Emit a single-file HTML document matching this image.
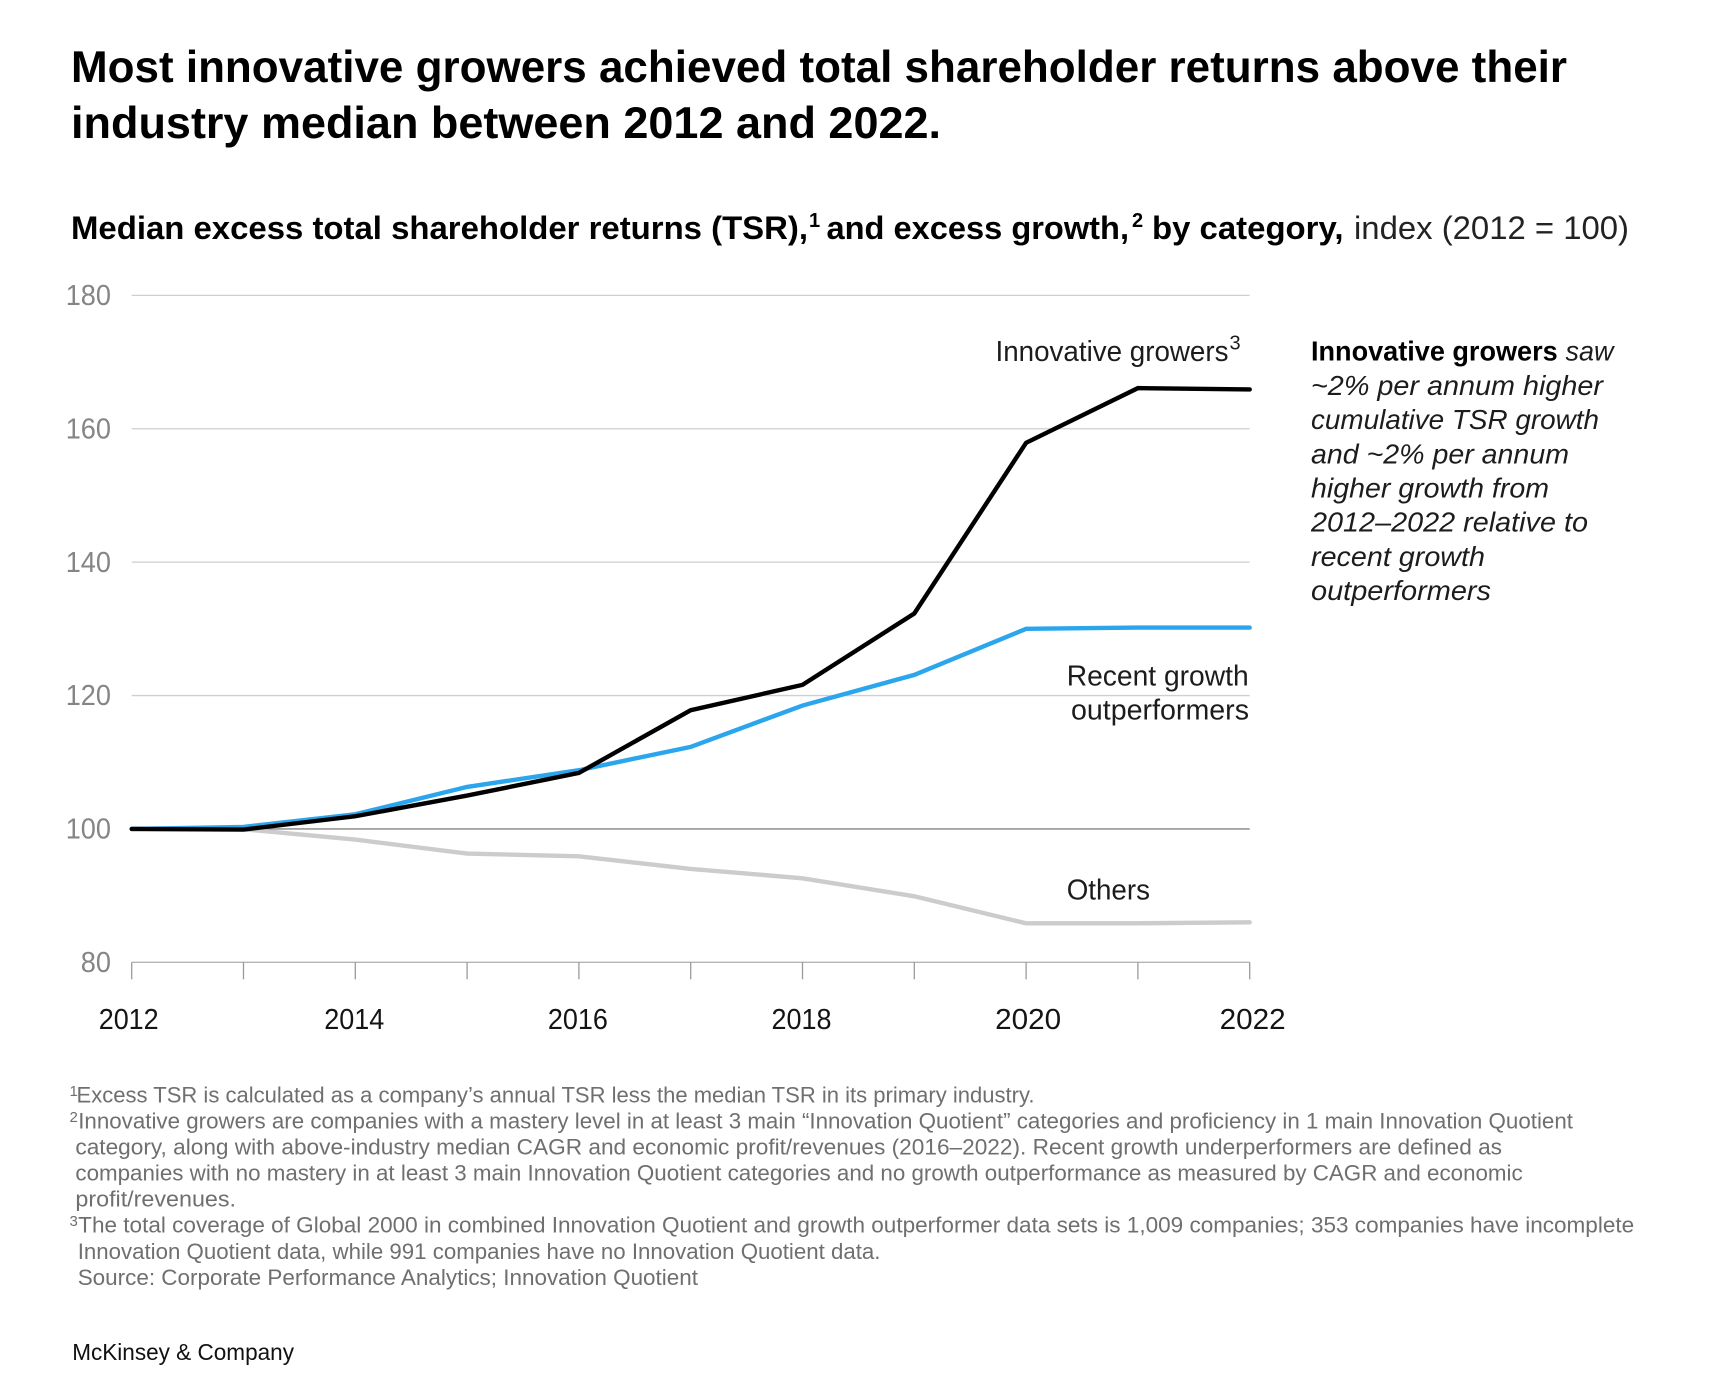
<!DOCTYPE html>
<html lang="en">
<head>
<meta charset="utf-8">
<title>Most innovative growers achieved total shareholder returns above their industry median</title>
<style>
html,body{margin:0;padding:0;background:#fff;}
svg{display:block;font-family:"Liberation Sans",sans-serif;}
text{white-space:pre;}
.fn{font-size:22.5px;fill:#6f6f6f;}
.fs{font-size:15px;fill:#6f6f6f;}
.lab{font-size:28.5px;fill:#1c1c1c;}
.side{font-size:28px;fill:#1c1c1c;font-style:italic;}
</style>
</head>
<body>
<svg id="chart" width="1714" height="1387" viewBox="0 0 1714 1387" xmlns="http://www.w3.org/2000/svg">
  <rect width="1714" height="1387" fill="#fff"/>

  <g font-size="44.5" font-weight="700" fill="#000">
    <text x="71" y="82" textLength="1496" lengthAdjust="spacingAndGlyphs">Most innovative growers achieved total shareholder returns above their</text>
    <text x="71" y="138" textLength="870" lengthAdjust="spacingAndGlyphs">industry median between 2012 and 2022.</text>
  </g>

  <g font-size="32.5" fill="#000">
    <text x="71" y="239" font-weight="700" textLength="737" lengthAdjust="spacingAndGlyphs">Median excess total shareholder returns (TSR),</text>
    <text x="809" y="227" font-size="20" font-weight="700">1</text>
    <text x="826.5" y="239" font-weight="700" textLength="302.5" lengthAdjust="spacingAndGlyphs">and excess growth,</text>
    <text x="1132" y="227" font-size="20" font-weight="700">2</text>
    <text x="1152" y="239" font-weight="700" textLength="191.5" lengthAdjust="spacingAndGlyphs">by category,</text>
    <text x="1354" y="239" fill="#222" textLength="275" lengthAdjust="spacingAndGlyphs">index (2012 = 100)</text>
  </g>

  <g id="grid"></g>
  <g id="yaxis"></g>
  <g id="xaxis"></g>
  <g id="series"></g>

  <g>
    <text class="lab" x="995.5" y="361" textLength="233" lengthAdjust="spacingAndGlyphs">Innovative growers</text>
    <text x="1229.5" y="349.5" font-size="20" fill="#1c1c1c">3</text>
    <text class="lab" x="1066.7" y="685.3" textLength="182" lengthAdjust="spacingAndGlyphs">Recent growth</text>
    <text class="lab" x="1071" y="719.3" textLength="178" lengthAdjust="spacingAndGlyphs">outperformers</text>
    <text class="lab" x="1066.7" y="899.5" textLength="83.3" lengthAdjust="spacingAndGlyphs">Others</text>
  </g>

  <g>
    <text x="1311" y="360.5" font-size="28" font-weight="700" fill="#000" textLength="246.7" lengthAdjust="spacingAndGlyphs">Innovative growers</text>
    <text class="side" x="1565.5" y="360.5" textLength="48" lengthAdjust="spacingAndGlyphs">saw</text>
    <text class="side" x="1311" y="394.9" textLength="292" lengthAdjust="spacingAndGlyphs">~2% per annum higher</text>
    <text class="side" x="1311" y="429.2" textLength="288" lengthAdjust="spacingAndGlyphs">cumulative TSR growth</text>
    <text class="side" x="1311" y="463.4" textLength="258" lengthAdjust="spacingAndGlyphs">and ~2% per annum</text>
    <text class="side" x="1311" y="497.6" textLength="238" lengthAdjust="spacingAndGlyphs">higher growth from</text>
    <text class="side" x="1311" y="531.6" textLength="277" lengthAdjust="spacingAndGlyphs">2012–2022 relative to</text>
    <text class="side" x="1311" y="565.8" textLength="174" lengthAdjust="spacingAndGlyphs">recent growth</text>
    <text class="side" x="1311" y="600" textLength="180" lengthAdjust="spacingAndGlyphs">outperformers</text>
  </g>

  <g>
    <text class="fs" x="69.5" y="1096">1</text>
    <text class="fn" x="76.5" y="1102.6" textLength="958" lengthAdjust="spacingAndGlyphs">Excess TSR is calculated as a company’s annual TSR less the median TSR in its primary industry.</text>
    <text class="fs" x="69.5" y="1122">2</text>
    <text class="fn" x="78.2" y="1128.6" textLength="1494.8" lengthAdjust="spacingAndGlyphs">Innovative growers are companies with a mastery level in at least 3 main “Innovation Quotient” categories and proficiency in 1 main Innovation Quotient</text>
    <text class="fn" x="75.4" y="1154.6" textLength="1426.6" lengthAdjust="spacingAndGlyphs">category, along with above-industry median CAGR and economic profit/revenues (2016–2022). Recent growth underperformers are defined as</text>
    <text class="fn" x="75.4" y="1180.6" textLength="1447.3" lengthAdjust="spacingAndGlyphs">companies with no mastery in at least 3 main Innovation Quotient categories and no growth outperformance as measured by CAGR and economic</text>
    <text class="fn" x="75.4" y="1206.3" textLength="160.6" lengthAdjust="spacingAndGlyphs">profit/revenues.</text>
    <text class="fs" x="69.5" y="1226">3</text>
    <text class="fn" x="78.2" y="1232.6" textLength="1556" lengthAdjust="spacingAndGlyphs">The total coverage of Global 2000 in combined Innovation Quotient and growth outperformer data sets is 1,009 companies; 353 companies have incomplete</text>
    <text class="fn" x="77.7" y="1258.8" textLength="802.8" lengthAdjust="spacingAndGlyphs">Innovation Quotient data, while 991 companies have no Innovation Quotient data.</text>
    <text class="fn" x="77.7" y="1285" textLength="620.3" lengthAdjust="spacingAndGlyphs">Source: Corporate Performance Analytics; Innovation Quotient</text>
  </g>

  <text x="72.2" y="1360" font-size="23" fill="#111" textLength="221.8" lengthAdjust="spacingAndGlyphs">McKinsey &amp; Company</text>
</svg>

<script>
const years = [2012, 2013, 2014, 2015, 2016, 2017, 2018, 2019, 2020, 2021, 2022];
const yearTickLabels = ["2012", "2014", "2016", "2018", "2020", "2022"];
const valueTicks = [180, 160, 140, 120, 100, 80];
const innovativeGrowers = [100, 99.9, 101.9, 105, 108.4, 117.8, 121.6, 132.3, 157.9, 166.1, 165.9];
const recentOutperformers = [100, 100.3, 102.2, 106.3, 108.8, 112.3, 118.5, 123.1, 130, 130.2, 130.2];
const others = [100, 99.95, 98.4, 96.3, 95.9, 94, 92.6, 89.9, 85.85, 85.85, 86];

const NS = "http://www.w3.org/2000/svg";
const plotLeft = 131.7, plotRight = 1249.7, plotTop = 295.4, plotBottom = 962.3;
const yMin = 80, yMax = 180;
const xScale = function (year) {
  return plotLeft + (year - years[0]) / (years[years.length - 1] - years[0]) * (plotRight - plotLeft);
};
const yScale = function (value) {
  return plotBottom - (value - yMin) / (yMax - yMin) * (plotBottom - plotTop);
};
function make(tag, attrs, parent) {
  const el = document.createElementNS(NS, tag);
  Object.keys(attrs).forEach(function (k) { el.setAttribute(k, attrs[k]); });
  parent.appendChild(el);
  return el;
}

const gridGroup = document.getElementById("grid");
const yGroup = document.getElementById("yaxis");
const xGroup = document.getElementById("xaxis");
const seriesGroup = document.getElementById("series");

valueTicks.forEach(function (v) {
  const line = make("line", {
    x1: plotLeft, x2: plotRight, y1: yScale(v), y2: yScale(v),
    stroke: v === 100 ? "#858585" : (v === yMin ? "#b5b5b5" : "#cfcfcf"),
    "stroke-width": 1.3
  }, gridGroup);
  
  

  const label = make("text", {
    x: 111, y: yScale(v) + 9.6, "text-anchor": "end",
    "font-size": 29, fill: "#858585",
    textLength: String(v).length * 15.1, lengthAdjust: "spacingAndGlyphs"
  }, yGroup);
  
  
  label.textContent = String(v);
});

years.forEach(function (year) {
  const tick = make("line", {
    x1: xScale(year), x2: xScale(year), y1: plotBottom, y2: plotBottom + 17,
    stroke: "#9a9a9a", "stroke-width": 1.3
  }, xGroup);
  
  
});

yearTickLabels.forEach(function (text, i) {
  const isWide = Number(text) >= 2020;
  const nudge = isWide ? (i === yearTickLabels.length - 1 ? 3 : 2) : (i === 0 ? -3 : -1);
  const label = make("text", {
    x: xScale(Number(text)) + nudge, y: 1029, "text-anchor": "middle",
    "font-size": 29, fill: "#141414",
    textLength: isWide ? 66 : 60, lengthAdjust: "spacingAndGlyphs"
  }, xGroup);
  
  
  label.textContent = text;
});

function drawSeries(values, color, name) {
  const d = values.map(function (v, i) {
    return (i === 0 ? "M" : "L") + xScale(years[i]).toFixed(2) + " " + yScale(v).toFixed(2);
  }).join(" ");
  const path = make("path", {
    d: d, fill: "none", stroke: color, "stroke-width": 4.4,
    "stroke-linecap": "round", "stroke-linejoin": "miter"
  }, seriesGroup);
  
  
}
drawSeries(others, "#cccccc", "line-others");
drawSeries(recentOutperformers, "#2ba6ec", "line-recent-growth-outperformers");
drawSeries(innovativeGrowers, "#000000", "line-innovative-growers");
</script>
</body>
</html>
